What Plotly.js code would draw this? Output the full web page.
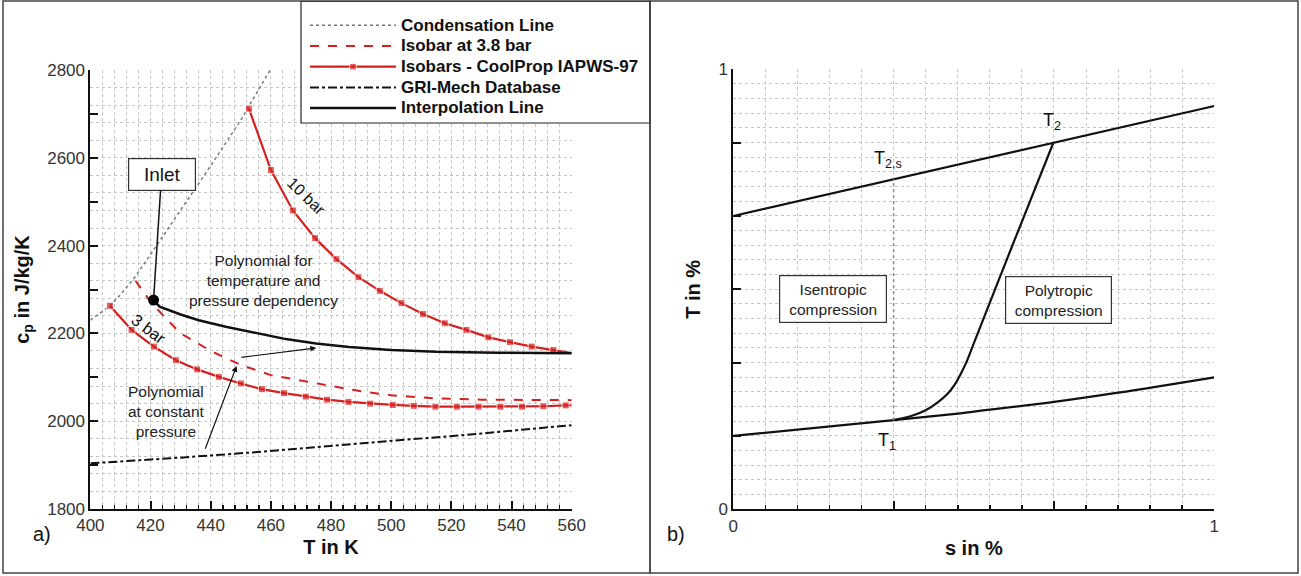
<!DOCTYPE html>
<html><head><meta charset="utf-8">
<script src="https://cdn.plot.ly/plotly-3.0.1.min.js"></script>
<style>
html,body{margin:0;padding:0;background:#fff}
#chart{width:1301px;height:576px}
#chart .legend .legendtext{font-size:17px !important}
#chart .legend .scrollbox, #chart .legend g{clip-path:none !important}
</style>
</head><body><div id="chart"></div>
<script>
// ---------- Panel a) data ----------
const condT  = [400, 406.5, 410, 415, 420, 430, 440, 450, 460];
const condCp = [2230, 2263, 2288, 2330, 2380, 2480, 2582, 2686, 2803];

const iso38T  = [415, 420, 425, 430, 440, 450, 460, 470, 480, 490, 500, 515, 530, 545, 560];
const iso38Cp = [2320, 2272, 2235, 2200, 2160, 2128, 2105, 2093, 2080, 2068, 2059, 2052, 2049, 2048, 2048];

const iso10T  = [452.7, 460.0, 467.3, 474.7, 481.8, 489.1, 496.2, 503.4, 510.6, 517.8, 525.0, 532.3, 539.5, 546.7, 553.9, 560];
const iso10Cp = [2712, 2572, 2480, 2417, 2369, 2328, 2297, 2269, 2244, 2223, 2208, 2191, 2180, 2170, 2162, 2155];

const iso3T  = [406.5, 413.7, 421.1, 428.4, 435.5, 442.7, 450.0, 457.0, 464.4, 471.6, 478.7, 485.8, 493.0, 500.5, 507.5, 514.7, 521.8, 529.0, 536.3, 543.5, 550.6, 558.0, 560];
const iso3Cp = [2263, 2208, 2170, 2139, 2118, 2101, 2086, 2073, 2064, 2056, 2049, 2044, 2040, 2037, 2035, 2033, 2033, 2033, 2033, 2033, 2034, 2036, 2036];

const griT  = [400, 430, 456, 470, 500, 530, 560];
const griCp = [1904, 1917, 1930, 1938, 1955, 1972, 1991];

const interpT  = [421, 423, 430, 436, 445, 453, 465, 475, 486, 500, 515, 535, 560];
const interpCp = [2276, 2261, 2243, 2230, 2215, 2204, 2187, 2177, 2169, 2162, 2158, 2156, 2155];

const inletT = [421], inletCp = [2276];

const xTicksA = [400, 420, 440, 460, 480, 500, 520, 540, 560];
const yTicksA = [1800, 1900, 2000, 2100, 2200, 2300, 2400, 2500, 2600, 2700, 2800];
const yTextA  = ['1800', '', '2000', '', '2200', '', '2400', '', '2600', '', '2800'];

// ---------- Panel b) data ----------
const p2S = [0, 1];
const p2T = [0.6667, 0.9167];
const p1S = [0, 0.3333, 0.472, 0.5, 0.667, 0.8, 1];
const p1T = [0.1667, 0.2025, 0.218, 0.222, 0.244, 0.265, 0.30];
const polyS = [0.3333, 0.37, 0.40, 0.425, 0.445, 0.46, 0.472, 0.485, 0.50, 0.58, 0.665];
const polyT = [0.2025, 0.212, 0.225, 0.243, 0.262, 0.283, 0.306, 0.335, 0.377, 0.599, 0.832];
const isenS = [0.3333, 0.3333];
const isenT = [0.2025, 0.75];

const xTicksB = [0, 1/3, 2/3, 1];
const xTextB  = ['0', '', '', '1'];
const yTicksB = [0, 1/6, 2/6, 3/6, 4/6, 5/6, 1];
const yTextB  = ['0', '', '', '', '', '', '1'];

// ---------- helpers ----------
const W = 1301, H = 576;
const px = v => v / W;
const py = v => 1 - v / H;
const RED = '#d61f1f';
const FONT = 'Liberation Sans, Arial, sans-serif';

const traces = [
  {x: condT, y: condCp, type: 'scatter', mode: 'lines', name: 'Condensation Line',
   line: {color: '#777', width: 1.5, dash: 'dot'}, xaxis: 'x', yaxis: 'y'},
  {x: iso38T, y: iso38Cp, type: 'scatter', mode: 'lines', name: 'Isobar at 3.8 bar',
   line: {color: RED, width: 2, dash: 'dash'}, xaxis: 'x', yaxis: 'y'},
  {x: iso10T, y: iso10Cp, type: 'scatter', mode: 'lines+markers', name: 'Isobars - CoolProp IAPWS-97',
   legendgroup: 'iso', line: {color: RED, width: 2.2},
   marker: {symbol: 'square', color: RED, size: iso10T.map((v, i) => i === iso10T.length - 1 ? 0 : 7)},
   xaxis: 'x', yaxis: 'y'},
  {x: iso3T, y: iso3Cp, type: 'scatter', mode: 'lines+markers', name: 'Isobars - CoolProp IAPWS-97',
   legendgroup: 'iso', showlegend: false, line: {color: RED, width: 2.2},
   marker: {symbol: 'square', color: RED, size: iso3T.map((v, i) => i === iso3T.length - 1 ? 0 : 7)},
   xaxis: 'x', yaxis: 'y'},
  {x: griT, y: griCp, type: 'scatter', mode: 'lines', name: 'GRI-Mech Database',
   line: {color: '#111', width: 2, dash: 'dashdot'}, xaxis: 'x', yaxis: 'y'},
  {x: interpT, y: interpCp, type: 'scatter', mode: 'lines', name: 'Interpolation Line',
   line: {color: '#111', width: 2.5}, xaxis: 'x', yaxis: 'y'},
  {x: inletT, y: inletCp, type: 'scatter', mode: 'markers', showlegend: false,
   marker: {color: '#000', size: 11}, xaxis: 'x', yaxis: 'y'},
  // panel b
  {x: p2S, y: p2T, type: 'scatter', mode: 'lines', showlegend: false,
   line: {color: '#111', width: 2.2}, xaxis: 'x2', yaxis: 'y2'},
  {x: p1S, y: p1T, type: 'scatter', mode: 'lines', showlegend: false, line: {shape: 'spline', color: '#111', width: 2.2},
   xaxis: 'x2', yaxis: 'y2'},
  {x: polyS, y: polyT, type: 'scatter', mode: 'lines', showlegend: false, line: {shape: 'spline', smoothing: 0.8, color: '#111', width: 2.2},
   xaxis: 'x2', yaxis: 'y2'},
  {x: isenS, y: isenT, type: 'scatter', mode: 'lines', showlegend: false, line: {color: '#888', width: 1.5, dash: 'dot'},
   xaxis: 'x2', yaxis: 'y2'}
];

const gridCol = '#c4c4c4';
const axBase = {
  showline: true, linecolor: '#111', linewidth: 2, zeroline: false, mirror: false,
  ticks: 'inside', tickcolor: '#111', tickwidth: 2, ticklen: 8,
  tickfont: {family: FONT, size: 17, color: '#333'},
  gridcolor: gridCol, griddash: 'dot', gridwidth: 1, fixedrange: true, automargin: false
};
const titleFont = {family: FONT, size: 20, color: '#111', weight: 'bold'};
const annFont = (s, c) => ({family: FONT, size: s, color: c || '#222'});

const layout = {
  width: W, height: H, margin: {l: 0, r: 0, t: 0, b: 0},
  paper_bgcolor: '#fff', plot_bgcolor: '#fff',
  font: {family: FONT},
  showlegend: true,
  legend: {x: px(305), y: py(10), xanchor: 'left', yanchor: 'top', bgcolor: 'rgba(0,0,0,0)',
           borderwidth: 0, itemwidth: 86, tracegroupgap: 0,
           font: {family: FONT, size: 13.6, color: '#111', weight: 'bold'}},
  xaxis: Object.assign({}, axBase, {domain: [px(90.4), px(571.7)], range: [400, 560], anchor: 'y',
    tickmode: 'array', tickvals: xTicksA, showgrid: true,
    minor: {dtick: 4, tick0: 400, showgrid: true, gridcolor: gridCol, griddash: 'dot', ticks: 'inside', ticklen: 4, tickwidth: 1.5, tickcolor: '#111'},
    title: {text: 'T in K', font: titleFont, standoff: 6}}),
  yaxis: Object.assign({}, axBase, {domain: [py(509), py(70)], range: [1800, 2800], anchor: 'x',
    tickmode: 'array', tickvals: yTicksA, ticktext: yTextA, showgrid: false,
    minor: {dtick: 40, tick0: 1800, showgrid: true, gridcolor: gridCol, griddash: 'dot', ticks: ''},
    title: {text: 'c<sub>p</sub> in J/kg/K', font: titleFont, standoff: 12}}),
  xaxis2: Object.assign({}, axBase, {domain: [px(733.3), px(1214.3)], range: [0, 1], anchor: 'y2',
    tickmode: 'array', tickvals: xTicksB, ticktext: xTextB, showgrid: true,
    minor: {dtick: 1/15, tick0: 0, showgrid: true, gridcolor: gridCol, griddash: 'dot', ticks: 'inside', ticklen: 4, tickwidth: 1.5, tickcolor: '#111'},
    title: {text: 's in %', font: titleFont, standoff: 6}}),
  yaxis2: Object.assign({}, axBase, {domain: [py(509.3), py(69.3)], range: [0, 1], anchor: 'x2',
    tickmode: 'array', tickvals: yTicksB, ticktext: yTextB, showgrid: true,
    minor: {dtick: 1/30, tick0: 0, showgrid: true, gridcolor: gridCol, griddash: 'dot', ticks: ''},
    title: {text: 'T in %', font: titleFont, standoff: 12}}),
  shapes: [
    {type: 'rect', xref: 'paper', yref: 'paper', x0: px(301), x1: px(650), y0: py(123), y1: py(1.5),
     fillcolor: '#fff', line: {color: '#222', width: 1.2}, layer: 'above'},
    {type: 'rect', xref: 'paper', yref: 'paper', x0: px(3), x1: px(650), y0: py(573), y1: py(1),
     fillcolor: 'rgba(0,0,0,0)', line: {color: '#444', width: 1.5}, layer: 'above'},
    {type: 'rect', xref: 'paper', yref: 'paper', x0: px(650), x1: px(1298), y0: py(573), y1: py(1),
     fillcolor: 'rgba(0,0,0,0)', line: {color: '#444', width: 1.5}, layer: 'above'}
  ],
  annotations: [
    // panel a
    {xref: 'x', yref: 'y', x: 421, y: 2276, ax: 8, ay: -126, text: 'Inlet', showarrow: true,
     arrowhead: 0, arrowwidth: 1.5, arrowcolor: '#111', bordercolor: '#333', borderwidth: 1.2, bgcolor: '#fff',
     width: 64, height: 29, font: annFont(19, '#111')},
    {xref: 'x', yref: 'y', x: 471.8, y: 2511, text: '10 bar', showarrow: false, textangle: 44,
     font: annFont(16, '#111')},
    {xref: 'x', yref: 'y', x: 419.5, y: 2211, text: '3 bar', showarrow: false, textangle: 37,
     font: annFont(16.5, '#111')},
    {xref: 'x', yref: 'y', x: 457.4, y: 2321, text: 'Polynomial for<br>temperature and<br>pressure dependency',
     showarrow: false, font: annFont(15.5)},
    {xref: 'x', yref: 'y', x: 425.3, y: 2023, text: 'Polynomial<br>at constant<br>pressure',
     showarrow: false, font: annFont(15.5)},
    {xref: 'x', yref: 'y', axref: 'x', ayref: 'y', x: 475.1, y: 2167, ax: 449.7, ay: 2145, text: '',
     showarrow: true, arrowhead: 2, arrowsize: 1, arrowwidth: 1.2, arrowcolor: '#111'},
    {xref: 'x', yref: 'y', axref: 'x', ayref: 'y', x: 448.6, y: 2126, ax: 438, ay: 1934, text: '',
     showarrow: true, arrowhead: 2, arrowsize: 1, arrowwidth: 1.2, arrowcolor: '#111'},
    {xref: 'paper', yref: 'paper', x: px(31), y: py(547), text: 'a)', showarrow: false,
     font: annFont(20, '#111')},
    // panel b
    {xref: 'x2', yref: 'y2', x: 0.322, y: 0.794, text: 'T<sub>2,s</sub>', showarrow: false,
     font: annFont(18, '#111')},
    {xref: 'x2', yref: 'y2', x: 0.662, y: 0.881, text: 'T<sub>2</sub>', showarrow: false,
     font: annFont(18, '#111')},
    {xref: 'x2', yref: 'y2', x: 1.015, y: 0.915, xanchor: 'left', text: 'p<sub>2</sub>', showarrow: false,
     font: annFont(18, '#111')},
    {xref: 'x2', yref: 'y2', x: 1.015, y: 0.29, xanchor: 'left', text: 'p<sub>1</sub>', showarrow: false,
     font: annFont(18, '#111')},
    {xref: 'x2', yref: 'y2', x: 0.319, y: 0.154, text: 'T<sub>1</sub>', showarrow: false,
     font: annFont(18, '#111')},
    {xref: 'x2', yref: 'y2', x: 0.208, y: 0.477, text: 'Isentropic<br>compression', showarrow: false,
     bordercolor: '#333', borderwidth: 1.2, bgcolor: '#fff', width: 104, height: 44,
     font: annFont(15.5)},
    {xref: 'x2', yref: 'y2', x: 0.677, y: 0.476, text: 'Polytropic<br>compression', showarrow: false,
     bordercolor: '#333', borderwidth: 1.2, bgcolor: '#fff', width: 103, height: 44,
     font: annFont(15.5)},
    {xref: 'paper', yref: 'paper', x: px(676), y: py(547), text: 'b)', showarrow: false,
     font: annFont(20, '#111')}
  ]
};

Plotly.newPlot('chart', traces, layout, {displayModeBar: false, staticPlot: true});
</script>
</body></html>
